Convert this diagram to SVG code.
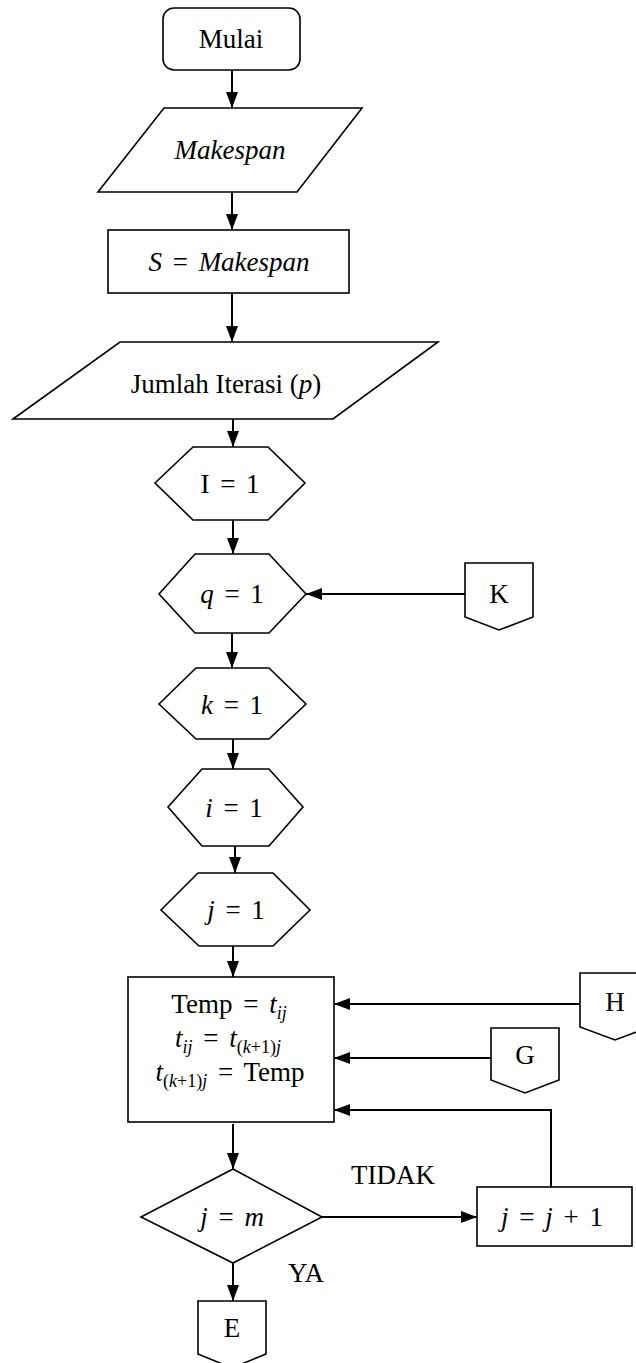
<svg xmlns="http://www.w3.org/2000/svg" width="636" height="1363" viewBox="0 0 636 1363">
  <defs>
    <marker id="arrow" markerUnits="userSpaceOnUse" markerWidth="16" markerHeight="12" refX="16" refY="6" orient="auto">
      <path d="M0,0 L16,6 L0,12 z" fill="#000"/>
    </marker>
    <style>
      .shape { fill: #fff; stroke: #000; stroke-width: 1.6; }
      .line { fill: none; stroke: #000; stroke-width: 2; marker-end: url(#arrow); }
      text { font-family: "Liberation Serif", "Times New Roman", serif; font-size: 27px; fill: #000; }
      .c { text-anchor: middle; }
      .m { font-style: italic; }
      .eq { word-spacing: 4px; }
      .sub { font-size: 18px; }
    </style>
  </defs>

  <rect width="636" height="1363" fill="#fff"/>

  <!-- connectors -->
  <g id="connectors">
    <line class="line" x1="232" y1="70" x2="232" y2="108"/>
    <line class="line" x1="232" y1="192" x2="232" y2="230"/>
    <line class="line" x1="232" y1="293" x2="232" y2="342"/>
    <line class="line" x1="233" y1="419" x2="233" y2="447"/>
    <line class="line" x1="233" y1="520" x2="233" y2="554"/>
    <line class="line" x1="465" y1="594" x2="306" y2="594"/>
    <line class="line" x1="232" y1="633" x2="232" y2="668"/>
    <line class="line" x1="233" y1="739" x2="233" y2="769"/>
    <line class="line" x1="235" y1="846" x2="235" y2="873"/>
    <line class="line" x1="233" y1="946" x2="233" y2="977"/>
    <line class="line" x1="580" y1="1004" x2="334" y2="1004"/>
    <line class="line" x1="491" y1="1058" x2="334" y2="1058"/>
    <polyline class="line" points="551,1187 551,1110 334,1110"/>
    <line class="line" x1="233" y1="1124" x2="233" y2="1169"/>
    <line class="line" x1="322" y1="1217" x2="477" y2="1217"/>
    <line class="line" x1="233" y1="1263" x2="233" y2="1301"/>
  </g>

  <!-- start -->
  <g id="mulai">
    <rect class="shape" x="163" y="8" width="137" height="62" rx="11"/>
    <text class="c" x="231" y="48">Mulai</text>
  </g>

  <!-- input makespan -->
  <g id="input-makespan">
    <polygon class="shape" points="164,108 362,108 297,192 98,192"/>
    <text class="c m" x="230" y="159">Makespan</text>
  </g>

  <!-- S = Makespan -->
  <g id="assign-s">
    <rect class="shape" x="108" y="230" width="241" height="63"/>
    <text class="c eq" x="229" y="271"><tspan class="m">S</tspan> = <tspan class="m">Makespan</tspan></text>
  </g>

  <!-- input iterations -->
  <g id="input-iterasi">
    <polygon class="shape" points="120,342 438,342 333,419 13,419"/>
    <text class="c" x="226" y="393">Jumlah Iterasi (<tspan class="m">p</tspan>)</text>
  </g>

  <!-- I = 1 -->
  <g id="init-I">
    <polygon class="shape" points="155,483 193,447 268,447 305,483 268,520 193,520"/>
    <text class="c eq" x="230" y="493">I = 1</text>
  </g>

  <!-- q = 1 -->
  <g id="init-q">
    <polygon class="shape" points="159,594 195,554 269,554 306,594 269,633 195,633"/>
    <text class="c eq" x="232" y="603"><tspan class="m">q</tspan> = 1</text>
  </g>

  <!-- off-page connector K -->
  <g id="conn-K">
    <polygon class="shape" points="465,563 533,563 533,617 499,630 465,617"/>
    <text class="c" x="499" y="603">K</text>
  </g>

  <!-- k = 1 -->
  <g id="init-k">
    <polygon class="shape" points="159,704 196,668 269,668 306,704 269,739 196,739"/>
    <text class="c eq" x="232" y="714"><tspan class="m">k</tspan> = 1</text>
  </g>

  <!-- i = 1 -->
  <g id="init-i">
    <polygon class="shape" points="168,807 202,769 269,769 303,807 269,846 202,846"/>
    <text class="c eq" x="234" y="817"><tspan class="m">i</tspan> = 1</text>
  </g>

  <!-- j = 1 -->
  <g id="init-j">
    <polygon class="shape" points="161,910 198,873 273,873 310,910 273,946 199,946"/>
    <text class="c eq" x="236" y="919"><tspan class="m">j</tspan> = 1</text>
  </g>

  <!-- swap process -->
  <g id="swap">
    <rect class="shape" x="128" y="977" width="206" height="145"/>
    <text class="c eq" x="229" y="1013">Temp = <tspan class="m">t</tspan><tspan class="m sub" dy="6">ij</tspan></text>
    <text class="c eq" x="228" y="1047"><tspan class="m">t</tspan><tspan class="m sub" dy="6">ij</tspan><tspan dy="-6"> = </tspan><tspan class="m">t</tspan><tspan class="sub" dy="6">(<tspan class="m">k</tspan>+1)<tspan class="m">j</tspan></tspan></text>
    <text class="c eq" x="230" y="1081"><tspan class="m">t</tspan><tspan class="sub" dy="6">(<tspan class="m">k</tspan>+1)<tspan class="m">j</tspan></tspan><tspan dy="-6"> = Temp</tspan></text>
  </g>

  <!-- off-page connector H -->
  <g id="conn-H">
    <polygon class="shape" points="580,973 650,973 650,1027 615,1040 580,1027"/>
    <text class="c" x="615" y="1011">H</text>
  </g>

  <!-- off-page connector G -->
  <g id="conn-G">
    <polygon class="shape" points="491,1028 559,1028 559,1080 525,1093 491,1080"/>
    <text class="c" x="525" y="1064">G</text>
  </g>

  <!-- decision j = m -->
  <g id="decision-j">
    <polygon class="shape" points="233,1169 322,1217 233,1263 141,1217"/>
    <text class="c eq" x="232" y="1226"><tspan class="m">j</tspan> = <tspan class="m">m</tspan></text>
  </g>

  <!-- j = j + 1 -->
  <g id="increment-j">
    <rect class="shape" x="477" y="1187" width="155" height="59"/>
    <text class="c eq" x="552" y="1226"><tspan class="m">j</tspan> = <tspan class="m">j</tspan> + 1</text>
  </g>

  <!-- branch labels -->
  <g id="labels">
    <text class="c" x="393" y="1184">TIDAK</text>
    <text class="c" x="306" y="1282">YA</text>
  </g>

  <!-- off-page connector E -->
  <g id="conn-E">
    <polygon class="shape" points="198,1301 266,1301 266,1354 232,1368 198,1354"/>
    <text class="c" x="232" y="1337">E</text>
  </g>
</svg>
